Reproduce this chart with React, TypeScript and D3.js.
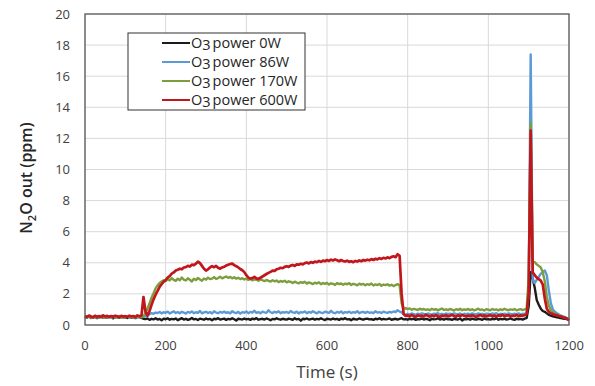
import React from 'react';
import * as d3 from 'd3';

// Sampling interval of the N2O analyser log (s)
const STEP = 5;

const timeTicks = [0, 200, 400, 600, 800, 1000, 1200];
const ppmTicks = [0, 2, 4, 6, 8, 10, 12, 14, 16, 18, 20];

// N2O outlet concentration (ppm), one sample every STEP seconds from t = 0 to 1200 s
const power0W = [
  0.52, 0.48, 0.55, 0.45, 0.50, 0.53, 0.44, 0.49, 0.56, 0.47,
  0.51, 0.46, 0.54, 0.49, 0.43, 0.52, 0.50, 0.47, 0.55, 0.48,
  0.50, 0.45, 0.53, 0.48, 0.51, 0.44, 0.52, 0.49, 0.46, 0.40,
  0.38, 0.42, 0.33, 0.40, 0.36, 0.44, 0.35, 0.39, 0.30, 0.41,
  0.37, 0.43, 0.34, 0.39, 0.36, 0.42, 0.31, 0.38, 0.44, 0.35,
  0.40, 0.33, 0.37, 0.45, 0.36, 0.39, 0.32, 0.41, 0.38, 0.34,
  0.42, 0.36, 0.39, 0.31, 0.40, 0.37, 0.44, 0.35, 0.38, 0.41,
  0.33, 0.39, 0.36, 0.43, 0.37, 0.29, 0.40, 0.38, 0.35, 0.42,
  0.36, 0.39, 0.33, 0.41, 0.37, 0.44, 0.34, 0.38, 0.40, 0.35,
  0.42, 0.37, 0.31, 0.39, 0.36, 0.43, 0.38, 0.34, 0.40, 0.37,
  0.35, 0.41, 0.38, 0.33, 0.44, 0.36, 0.39, 0.28, 0.40, 0.37,
  0.42, 0.35, 0.38, 0.41, 0.34, 0.39, 0.36, 0.43, 0.37, 0.32,
  0.40, 0.38, 0.35, 0.42, 0.36, 0.39, 0.33, 0.41, 0.37, 0.44,
  0.36, 0.38, 0.31, 0.40, 0.37, 0.35, 0.42, 0.38, 0.34, 0.39,
  0.41, 0.36, 0.38, 0.33, 0.40, 0.37, 0.43, 0.35, 0.39, 0.36,
  0.38, 0.42, 0.34, 0.37, 0.40, 0.35, 0.39, 0.44, 0.36, 0.38,
  0.34, 0.39, 0.37, 0.41, 0.33, 0.38, 0.36, 0.42, 0.35, 0.39,
  0.37, 0.31, 0.40, 0.36, 0.38, 0.43, 0.35, 0.39, 0.34, 0.41,
  0.36, 0.38, 0.33, 0.40, 0.37, 0.35, 0.42, 0.29, 0.38, 0.36,
  0.39, 0.34, 0.41, 0.37, 0.35, 0.40, 0.38, 0.33, 0.42, 0.36,
  0.38, 0.35, 0.40, 0.37, 0.43, 0.34, 0.39, 0.36, 0.41, 0.35,
  0.38, 0.42, 0.36, 0.33, 0.40, 0.37, 0.39, 0.35, 0.41, 0.45,
  1.20, 3.40, 3.00, 2.40, 1.60, 1.30, 1.05, 0.90, 0.85, 0.75,
  0.65, 0.60, 0.55, 0.52, 0.50, 0.47, 0.45, 0.42, 0.40, 0.38,
  0.35,
];

const power86W = [
  0.55, 0.50, 0.58, 0.47, 0.53, 0.56, 0.49, 0.52, 0.60, 0.48,
  0.54, 0.50, 0.57, 0.46, 0.52, 0.55, 0.49, 0.58, 0.51, 0.47,
  0.53, 0.56, 0.49, 0.52, 0.57, 0.48, 0.54, 0.50, 0.55, 0.52,
  0.58, 0.62, 0.70, 0.76, 0.72, 0.80, 0.77, 0.84, 0.75, 0.82,
  0.79, 0.86, 0.74, 0.81, 0.88, 0.77, 0.83, 0.76, 0.85, 0.80,
  0.73, 0.84, 0.79, 0.87, 0.76, 0.82, 0.78, 0.90, 0.75, 0.81,
  0.85, 0.77, 0.83, 0.74, 0.88, 0.80, 0.76, 0.84, 0.79, 0.86,
  0.78, 0.82, 0.75, 0.89, 0.80, 0.77, 0.85, 0.73, 0.83, 0.79,
  0.87, 0.76, 0.84, 0.80, 0.92, 0.78, 0.83, 0.75, 0.86, 0.81,
  0.79, 0.95, 0.82, 0.77, 0.85, 0.80, 0.88, 0.76, 0.83, 0.79,
  0.84, 0.77, 0.90, 0.81, 0.78, 0.86, 0.74, 0.83, 0.80, 0.87,
  0.76, 0.84, 0.79, 0.88, 0.81, 0.75, 0.85, 0.80, 0.77, 0.86,
  0.82, 0.78, 0.91, 0.80, 0.76, 0.84, 0.79, 0.87, 0.75, 0.83,
  0.80, 0.86, 0.77, 0.83, 0.79, 0.89, 0.76, 0.82, 0.84, 0.78,
  0.85, 0.79, 0.81, 0.76, 0.88, 0.80, 0.83, 0.77, 0.86, 0.81,
  0.78, 0.84, 0.80, 0.87, 0.83, 0.95, 0.86, 0.82, 0.70, 0.66,
  0.72, 0.68, 0.74, 0.70, 0.66, 0.73, 0.69, 0.75, 0.71, 0.67,
  0.74, 0.70, 0.68, 0.73, 0.71, 0.76, 0.69, 0.72, 0.67, 0.74,
  0.70, 0.73, 0.68, 0.75, 0.71, 0.69, 0.74, 0.66, 0.72, 0.70,
  0.73, 0.68, 0.75, 0.71, 0.69, 0.74, 0.70, 0.72, 0.67, 0.73,
  0.71, 0.69, 0.74, 0.70, 0.76, 0.68, 0.72, 0.70, 0.73, 0.69,
  0.74, 0.71, 0.68, 0.73, 0.70, 0.75, 0.69, 0.72, 0.71, 0.78,
  2.20, 17.40, 2.90, 2.70, 2.90, 3.10, 3.30, 3.40, 3.50, 3.20,
  2.20, 1.40, 1.00, 0.85, 0.75, 0.68, 0.60, 0.55, 0.50, 0.45,
  0.38,
];

const power170W = [
  0.53, 0.49, 0.56, 0.50, 0.46, 0.55, 0.51, 0.48, 0.57, 0.50,
  0.52, 0.47, 0.55, 0.50, 0.54, 0.48, 0.53, 0.51, 0.46, 0.55,
  0.50, 0.54, 0.49, 0.56, 0.51, 0.48, 0.55, 0.52, 0.50, 0.58,
  0.75, 1.05, 1.40, 1.75, 2.05, 2.35, 2.55, 2.70, 2.80, 2.88,
  2.82, 2.95, 2.87, 3.02, 2.90, 2.84, 2.98, 2.88, 3.05, 2.92,
  2.86, 3.00, 2.91, 2.80, 2.97, 2.89, 3.03, 2.93, 2.85, 2.99,
  2.92, 3.04, 2.95, 2.98, 3.08, 2.96, 3.02, 3.10, 3.00, 3.06,
  3.12, 3.03, 3.09, 3.00, 3.07, 2.98, 3.04, 2.95, 3.01, 2.93,
  2.98, 2.90, 2.96, 2.87, 2.94, 2.91, 2.85, 2.93, 2.88, 2.82,
  2.90, 2.84, 2.79, 2.88, 2.81, 2.86, 2.76, 2.83, 2.78, 2.85,
  2.74, 2.81, 2.77, 2.70, 2.79, 2.73, 2.68, 2.76, 2.71, 2.78,
  2.66, 2.74, 2.69, 2.63, 2.72, 2.67, 2.75, 2.62, 2.70, 2.65,
  2.71, 2.60, 2.68, 2.64, 2.58, 2.70, 2.63, 2.67, 2.59, 2.66,
  2.62, 2.69, 2.57, 2.65, 2.61, 2.55, 2.66, 2.60, 2.64, 2.56,
  2.63, 2.58, 2.67, 2.54, 2.61, 2.57, 2.64, 2.52, 2.60, 2.56,
  2.62, 2.53, 2.59, 2.50, 2.57, 2.63, 2.55, 1.40, 1.05, 1.08,
  1.02, 1.07, 0.98, 1.04, 1.00, 0.96, 1.05, 0.99, 1.03, 0.97,
  1.01, 0.95, 1.04, 0.98, 1.02, 0.94, 1.00, 1.06, 0.97, 1.01,
  0.96, 1.03, 0.99, 0.93, 1.02, 0.97, 1.04, 0.95, 1.00, 0.98,
  1.03, 0.96, 1.01, 0.94, 0.99, 1.05, 0.97, 1.00, 0.93, 1.02,
  0.98, 0.95, 1.03, 0.97, 1.00, 0.94, 1.01, 0.96, 1.04, 0.98,
  0.95, 1.00, 0.97, 1.03, 0.94, 0.99, 1.02, 0.96, 1.00, 1.05,
  3.00, 13.00, 4.10, 4.05, 3.90, 3.80, 3.70, 3.40, 2.80, 1.80,
  1.25, 0.95, 0.82, 0.72, 0.65, 0.60, 0.55, 0.50, 0.47, 0.42,
  0.32,
];

const power600W = [
  0.58, 0.52, 0.61, 0.55, 0.49, 0.60, 0.54, 0.57, 0.50, 0.62,
  0.55, 0.59, 0.51, 0.58, 0.53, 0.60, 0.56, 0.50, 0.59, 0.54,
  0.57, 0.52, 0.60, 0.55, 0.58, 0.51, 0.62, 0.56, 0.60, 1.80,
  0.85, 0.60, 0.90, 1.30, 1.65, 1.95, 2.20, 2.45, 2.62, 2.78,
  2.90, 3.05, 3.15, 3.30, 3.38, 3.50, 3.55, 3.62, 3.58, 3.70,
  3.72, 3.80, 3.76, 3.88, 3.85, 3.94, 4.08, 3.98, 3.80, 3.62,
  3.50, 3.58, 3.70, 3.78, 3.72, 3.80, 3.68, 3.62, 3.70, 3.75,
  3.82, 3.88, 3.92, 3.95, 3.85, 3.78, 3.70, 3.60, 3.52, 3.40,
  3.20, 3.05, 2.98, 3.02, 3.10, 3.00, 2.96, 3.04, 3.12, 3.20,
  3.28, 3.35, 3.42, 3.50, 3.48, 3.58, 3.62, 3.68, 3.65, 3.74,
  3.78, 3.74, 3.82, 3.86, 3.80, 3.90, 3.88, 3.94, 3.90, 3.98,
  4.02, 3.96, 4.05, 4.00, 4.08, 4.04, 4.12, 4.06, 4.14, 4.10,
  4.18, 4.12, 4.20, 4.15, 4.22, 4.16, 4.10, 4.18, 4.12, 4.08,
  4.14, 4.06, 4.10, 4.04, 4.12, 4.08, 4.15, 4.10, 4.18, 4.14,
  4.20, 4.16, 4.24, 4.18, 4.26, 4.22, 4.30, 4.25, 4.32, 4.28,
  4.35, 4.30, 4.38, 4.42, 4.36, 4.55, 4.45, 2.00, 0.70, 0.58,
  0.62, 0.55, 0.65, 0.58, 0.52, 0.63, 0.57, 0.60, 0.54, 0.66,
  0.59, 0.53, 0.62, 0.56, 0.64, 0.58, 0.51, 0.61, 0.57, 0.63,
  0.55, 0.60, 0.66, 0.58, 0.53, 0.62, 0.57, 0.64, 0.59, 0.54,
  0.61, 0.56, 0.63, 0.58, 0.52, 0.60, 0.65, 0.57, 0.62, 0.55,
  0.59, 0.64, 0.56, 0.61, 0.53, 0.62, 0.58, 0.66, 0.57, 0.60,
  0.63, 0.55, 0.60, 0.58, 0.65, 0.57, 0.62, 0.59, 0.64, 0.70,
  2.00, 12.50, 3.40, 3.20, 3.05, 2.95, 2.85, 2.60, 1.70, 1.05,
  0.85, 0.75, 0.70, 0.65, 0.62, 0.58, 0.55, 0.50, 0.46, 0.40,
  0.30,
];

const seriesLabels = ['0W', '86W', '170W', '600W'];
const seriesColors = ['#1b1b1b', '#5b9bd5', '#7c9e3e', '#c0161c'];
const seriesWidths = [2.4, 2.4, 2.4, 2.7];
const seriesValues = [power0W, power86W, power170W, power600W];

const FONT = "'Open Sans', 'Noto Sans', sans-serif";

export default function App() {
  const width = 595;
  const height = 386;
  const x = d3.scaleLinear().domain([0, 1200]).range([85, 569]);
  const y = d3.scaleLinear().domain([0, 20]).range([325, 14]);
  const line = d3
    .line<number>()
    .x((_, i) => x(i * STEP))
    .y((d) => y(d));

  const [x0, x1] = x.range();
  const [yb, yt] = y.range();

  const legendX = 128;
  const legendY = 33;

  return (
    <div style={{ position: 'absolute', left: 0, top: 0 }}>
      <svg width={width} height={height} style={{ display: 'block', background: '#fff' }}>
        {/* grid */}
        <g stroke="#d9d9d9" strokeWidth={1}>
          {ppmTicks.map((t) => (
            <line key={'h' + t} x1={x0} x2={x1} y1={y(t)} y2={y(t)} />
          ))}
          {timeTicks.map((t) => (
            <line key={'v' + t} x1={x(t)} x2={x(t)} y1={yt} y2={yb} />
          ))}
        </g>

        {/* series */}
        <g fill="none" strokeLinejoin="round">
          {seriesValues.map((vals, k) => (
            <path key={k} d={line(vals) ?? ''} stroke={seriesColors[k]} strokeWidth={seriesWidths[k]} />
          ))}
        </g>

        {/* plot frame */}
        <rect x={x0} y={yt} width={x1 - x0} height={yb - yt} fill="none" stroke="#595959" strokeWidth={1.3} />

        {/* tick labels */}
        <g fontFamily={FONT} fontSize={13} fill="#404040">
          {ppmTicks.map((t) => (
            <text key={'yl' + t} x={70} y={y(t)} dy="0.35em" textAnchor="end">
              {t}
            </text>
          ))}
          {timeTicks.map((t) => (
            <text key={'xl' + t} x={x(t)} y={350} textAnchor="middle">
              {t}
            </text>
          ))}
        </g>

        {/* axis titles */}
        <text x={327} y={378} textAnchor="middle" fontFamily={FONT} fontSize={17} fill="#404040">
          Time (s)
        </text>
        <text
          transform={`translate(32, 178) rotate(-90)`}
          textAnchor="middle"
          fontFamily={FONT}
          fontSize={16}
          fontWeight={600}
          fill="#262626"
        >
          N
          <tspan fontSize={11} dy={4}>2</tspan>
          <tspan dy={-4}>O out (ppm)</tspan>
        </text>

        {/* legend */}
        <rect x={legendX} y={legendY} width={177} height={77} fill="#fff" stroke="#333" strokeWidth={1} />
        {seriesLabels.map((lab, k) => {
          const cy = 43 + k * 19;
          return (
            <g key={lab}>
              <line x1={162} x2={190} y1={cy} y2={cy} stroke={seriesColors[k]} strokeWidth={2} />
              <text x={191} y={cy} dy="0.35em" fontFamily={FONT} fontSize={14.5} fill="#262626">
                O
                <tspan dy={2}>3</tspan>
                <tspan dy={-2} dx={2}>power {lab}</tspan>
              </text>
            </g>
          );
        })}
      </svg>
    </div>
  );
}
